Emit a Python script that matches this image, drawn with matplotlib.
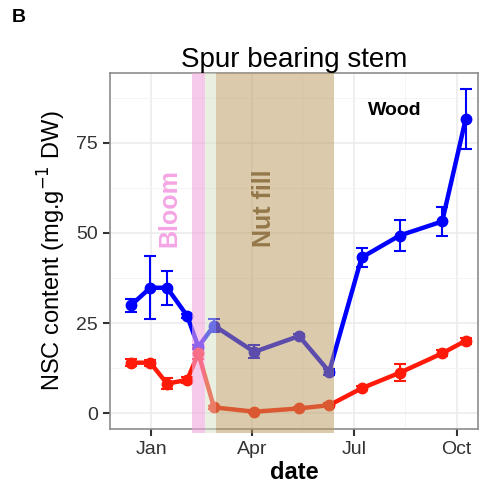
import numpy as np
import pandas as pd
import matplotlib
matplotlib.use("Agg")
import matplotlib.pyplot as plt

plt.rcParams["font.family"] = ["Liberation Sans", "DejaVu Sans"]

# sampling dates
dates = pd.to_datetime(["2012-12-14", "2012-12-31", "2013-01-15", "2013-02-02", "2013-02-12",
                        "2013-02-26", "2013-04-03", "2013-05-13", "2013-06-09", "2013-07-08",
                        "2013-08-11", "2013-09-18", "2013-10-09"])
# NSC content, blue and red series
blue = [30, 34.8, 34.8, 27, 18.4, 24.3, 17, 21.4, 11.5, 43.2, 49.3, 53.2, 81.6]
blue_err = [1.8, 8.8, 4.7, 0.5, 0.5, 1.8, 1.8, 0.5, 0.8, 2.7, 4.2, 4.0, 8.4]
red = [14, 14, 8.2, 9.2, 16.6, 1.6, 0.4, 1.3, 2.2, 6.9, 11.2, 16.6, 20.1]
red_err = [1, 0.8, 1.5, 0.8, 1.5, 0.5, 0.5, 0.5, 0.5, 0.5, 2.4, 0.8, 0.8]

# phases
bloom = ("2013-02-06", "2013-02-18")
gap = ("2013-02-18", "2013-02-28")
nutfill = ("2013-02-28", "2013-06-13")

xticks = pd.to_datetime(["2013-01-01", "2013-04-01", "2013-07-01", "2013-10-01"])
xlabels = ["Jan", "Apr", "Jul", "Oct"]
yticks = [0, 25, 50, 75]

fig = plt.figure(figsize=(4.81, 4.94), dpi=100)
ax = fig.add_axes([0.2287, 0.1316, 0.765, 0.7206])

ax.errorbar(dates, blue, yerr=blue_err, color="#0000ff", lw=3.2, marker="o", ms=7.5,
            capsize=4, elinewidth=1.5, capthick=1.5, zorder=3)
ax.errorbar(dates, red, yerr=red_err, color="#ff1a0a", lw=3.2, marker="o", ms=7.5,
            capsize=4, elinewidth=1.5, capthick=1.5, zorder=3)

ax.axvspan(pd.Timestamp(bloom[0]), pd.Timestamp(bloom[1]), ymin=-0.012, ymax=1,
           color="#f0a8dc", alpha=0.6, lw=0, zorder=4, clip_on=False)
ax.axvspan(pd.Timestamp(gap[0]), pd.Timestamp(gap[1]), ymin=-0.012, ymax=1,
           color="#d5e0c4", alpha=0.5, lw=0, zorder=4, clip_on=False)
ax.axvspan(pd.Timestamp(nutfill[0]), pd.Timestamp(nutfill[1]), ymin=-0.012, ymax=1,
           color="#b9995a", alpha=0.5, lw=0, zorder=4, clip_on=False)

ax.text(pd.Timestamp("2013-01-17"), 57, "Bloom", rotation=90, color="#f4a6e4",
        fontsize=18, fontweight="bold", ha="center", va="center", zorder=5)
ax.text(pd.Timestamp("2013-04-12"), 57, "Nut fill", rotation=90, color="#94784a",
        fontsize=18, fontweight="bold", ha="center", va="center", zorder=5)
ax.text(pd.Timestamp("2013-08-07"), 84, "Wood", color="black",
        fontsize=14, fontweight="bold", ha="center", va="center", zorder=5)

ax.set_xlim(pd.Timestamp("2012-11-25"), pd.Timestamp("2013-10-20"))
ax.set_ylim(-4.4, 94.4)
ax.set_xticks(xticks)
ax.set_xticklabels(xlabels)
ax.set_yticks(yticks)
ax.set_xticks(pd.to_datetime(["2013-02-15", "2013-05-16", "2013-08-16"]), minor=True)
ax.set_yticks([12.5, 37.5, 62.5, 87.5], minor=True)
ax.grid(which="major", color="#ebebeb", lw=1.1)
ax.grid(which="minor", color="#f3f3f3", lw=0.6)
ax.set_axisbelow(True)
ax.tick_params(which="major", direction="out", length=5, width=1.5, color="#333333",
               labelsize=14, labelcolor="#333333")
ax.tick_params(which="minor", length=0)
for s in ax.spines.values():
    s.set_color("#8c8c8c")
    s.set_linewidth(1.2)

ax.set_title("Spur bearing stem", fontsize=20, pad=4)
ax.set_xlabel("date", fontsize=17, fontweight="bold", labelpad=2)
ax.set_ylabel("NSC content (mg.g$^{-1}$ DW)", fontsize=17, labelpad=6)
fig.text(0.025, 0.955, "B", fontsize=14, fontweight="bold")

fig.savefig("out.png", dpi=100)
